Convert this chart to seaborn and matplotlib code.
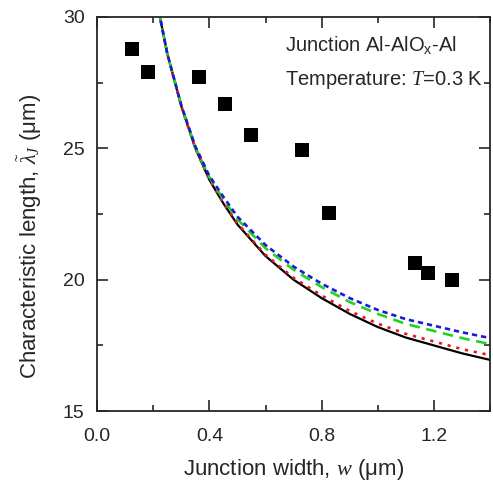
import matplotlib
matplotlib.use("Agg")
import matplotlib.pyplot as plt
import seaborn as sns
import pandas as pd
from matplotlib.ticker import MultipleLocator

# Experimental data (squares)
exp_w = [0.124, 0.181, 0.363, 0.455, 0.548, 0.729, 0.825, 1.134, 1.180, 1.266]
exp_lam = [28.78, 27.91, 27.72, 26.69, 25.51, 24.94, 22.54, 20.64, 20.26, 19.99]

# Theory curves
w_curve = [0.22, 0.25, 0.30, 0.35, 0.40, 0.45, 0.50, 0.60, 0.70, 0.80, 0.90, 1.00, 1.10, 1.20, 1.30, 1.40]
lam_black = [30.2, 28.6, 26.6, 25.0, 23.8, 22.9, 22.1, 20.9, 20.0, 19.3, 18.7, 18.2, 17.8, 17.5, 17.2, 16.95]
lam_red = [30.2, 28.6, 26.6, 25.0, 23.82, 22.93, 22.14, 20.95, 20.07, 19.4, 18.81, 18.33, 17.94, 17.65, 17.36, 17.13]
lam_green = [30.2, 28.6, 26.62, 25.04, 23.9, 23.05, 22.3, 21.2, 20.38, 19.72, 19.15, 18.7, 18.32, 18.05, 17.78, 17.55]
lam_blue = [30.2, 28.6, 26.63, 25.07, 23.95, 23.15, 22.4, 21.32, 20.5, 19.85, 19.3, 18.85, 18.5, 18.25, 18.0, 17.78]

sns.set_style("ticks")
plt.rcParams['font.family'] = ['Liberation Sans', 'DejaVu Sans']
plt.rcParams['mathtext.fontset'] = 'custom'
plt.rcParams['mathtext.rm'] = 'Liberation Serif'
plt.rcParams['mathtext.it'] = 'Liberation Serif:italic'

fig = plt.figure(figsize=(4.93, 4.82), dpi=100)
ax = fig.add_axes([0.197, 0.147, 0.797, 0.818])

df_c = pd.DataFrame({"w": w_curve, "black": lam_black, "red": lam_red,
                     "green": lam_green, "blue": lam_blue})

sns.lineplot(data=df_c, x="w", y="black", ax=ax, color="black", lw=1.6)
sns.lineplot(data=df_c, x="w", y="red", ax=ax, color="#e8161b", lw=1.9, linestyle=(0, (1.2, 2.2)))
sns.lineplot(data=df_c, x="w", y="green", ax=ax, color="#22d422", lw=1.9, linestyle=(0, (4, 2.5)))
sns.lineplot(data=df_c, x="w", y="blue", ax=ax, color="#1a1ad8", lw=1.9, linestyle=(0, (2, 1.5)))

sns.scatterplot(x=exp_w, y=exp_lam, ax=ax, marker="s", s=110, color="black", edgecolor="black", linewidth=0, zorder=5)

ax.set_xlim(0, 1.4)
ax.set_ylim(15, 30)
ax.xaxis.set_minor_locator(MultipleLocator(0.2))
ax.yaxis.set_minor_locator(MultipleLocator(2.5))
ax.set_xticks([0.0, 0.4, 0.8, 1.2])
ax.set_xticklabels(["0.0", "0.4", "0.8", "1.2"])
ax.set_yticks([15, 20, 25, 30])
ax.set_yticklabels(["15", "20", "25", "30"])
ax.tick_params(which="both", direction="in", top=True, right=True, labelsize=14, width=1.2)
ax.tick_params(which="major", length=8)
ax.tick_params(which="minor", length=4.5)
ax.tick_params(axis="x", which="major", pad=12)
ax.tick_params(axis="y", which="major", pad=9)
for s in ax.spines.values():
    s.set_linewidth(1.3)
    s.set_visible(True)

ax.set_xlabel(r"Junction width, $w$ (μm)", fontsize=16, labelpad=9)
ax.set_ylabel(r"Characteristic length, $\tilde{\lambda}_J$ (μm)", fontsize=16)
ax.yaxis.set_label_coords(-0.135, 0.444)

ax.text(0.668, 28.93, r"Junction Al-AlO$_\mathregular{x}$-Al", fontsize=14.5, ha="left", va="center")
ax.text(0.668, 27.6, r"Temperature: $T$=0.3 K", fontsize=14.5, ha="left", va="center")

fig.savefig("out.png", dpi=100)
